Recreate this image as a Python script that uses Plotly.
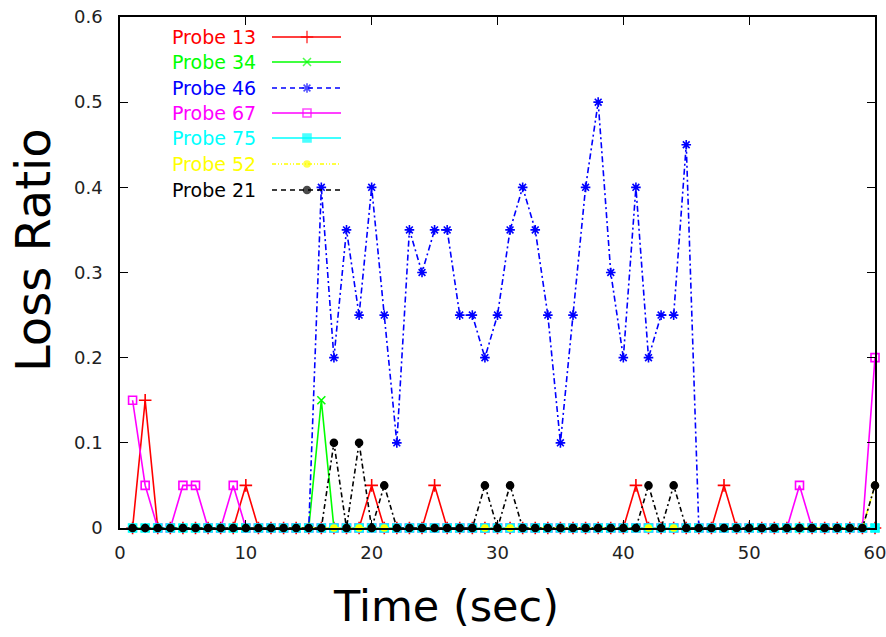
import plotly.graph_objects as go

# Time axis (seconds) and loss ratio per probe
time_sec = list(range(1, 61))

probe_13 = [0, 0.15, 0, 0, 0, 0, 0, 0, 0, 0.05,
            0, 0, 0, 0, 0, 0, 0, 0, 0, 0.05,
            0, 0, 0, 0, 0.05, 0, 0, 0, 0, 0,
            0, 0, 0, 0, 0, 0, 0, 0, 0, 0,
            0.05, 0, 0, 0, 0, 0, 0, 0.05, 0, 0,
            0, 0, 0, 0, 0, 0, 0, 0, 0, 0]

probe_34 = [0, 0, 0, 0, 0, 0, 0, 0, 0, 0,
            0, 0, 0, 0, 0, 0.15, 0, 0, 0, 0,
            0, 0, 0, 0, 0, 0, 0, 0, 0, 0,
            0, 0, 0, 0, 0, 0, 0, 0, 0, 0,
            0, 0, 0, 0, 0, 0, 0, 0, 0, 0,
            0, 0, 0, 0, 0, 0, 0, 0, 0, 0]

probe_46 = [0, 0, 0, 0, 0, 0, 0, 0, 0, 0,
            0, 0, 0, 0, 0, 0.4, 0.2, 0.35, 0.25, 0.4,
            0.25, 0.1, 0.35, 0.3, 0.35, 0.35, 0.25, 0.25, 0.2, 0.25,
            0.35, 0.4, 0.35, 0.25, 0.1, 0.25, 0.4, 0.5, 0.3, 0.2,
            0.4, 0.2, 0.25, 0.25, 0.45, 0, 0, 0, 0, 0,
            0, 0, 0, 0, 0, 0, 0, 0, 0, 0]

probe_67 = [0.15, 0.05, 0, 0, 0.05, 0.05, 0, 0, 0.05, 0,
            0, 0, 0, 0, 0, 0, 0, 0, 0, 0,
            0, 0, 0, 0, 0, 0, 0, 0, 0, 0,
            0, 0, 0, 0, 0, 0, 0, 0, 0, 0,
            0, 0, 0, 0, 0, 0, 0, 0, 0, 0,
            0, 0, 0, 0.05, 0, 0, 0, 0, 0, 0.2]

probe_75 = [0] * 60

probe_52 = [0, 0, 0, 0, 0, 0, 0, 0, 0, 0,
            0, 0, 0, 0, 0, 0, 0, 0, 0, 0,
            0, 0, 0, 0, 0, 0, 0, 0, 0, 0,
            0, 0, 0, 0, 0, 0, 0, 0, 0, 0,
            0, 0, 0, 0, 0, 0, 0, 0, 0, 0,
            0, 0, 0, 0, 0, 0, 0, 0, 0, 0.05]

probe_21 = [0, 0, 0, 0, 0, 0, 0, 0, 0, 0,
            0, 0, 0, 0, 0, 0, 0.1, 0, 0.1, 0,
            0.05, 0, 0, 0, 0, 0, 0, 0, 0.05, 0,
            0.05, 0, 0, 0, 0, 0, 0, 0, 0, 0,
            0, 0.05, 0, 0.05, 0, 0, 0, 0, 0, 0,
            0, 0, 0, 0, 0, 0, 0, 0, 0, 0.05]

x_ticks = [0, 10, 20, 30, 40, 50, 60]
y_ticks = [0, 0.1, 0.2, 0.3, 0.4, 0.5, 0.6]

series = [
    ("Probe 13", probe_13, "#ff0000", "solid", "solid", "cross-thin-open", 9),
    ("Probe 34", probe_34, "#00ff00", "solid", "solid", "x-thin-open", 8),
    ("Probe 46", probe_46, "#0000ff", "6px,3px,2px,3px", "5px,4px", "asterisk-open", 8),
    ("Probe 67", probe_67, "#ff00ff", "solid", "solid", "square-open", 8),
    ("Probe 75", probe_75, "#00ffff", "solid", "solid", "square", 8),
    ("Probe 52", probe_52, "#ffff00", "4px,2px,1px,2px,1px,2px", "4px,2px,1px,2px,1px,2px", "circle", 6),
    ("Probe 21", probe_21, "#000000", "5px,3px,2px,3px", "5px,4px", "circle", 7),
]

fig = go.Figure()

for name, vals, color, dash, _, symbol, msize in series:
    fig.add_trace(go.Scatter(
        x=time_sec, y=vals, name=name, mode="lines+markers",
        line=dict(color=color, width=1.6, dash=dash),
        marker=dict(symbol=symbol, size=msize, color=color,
                    line=dict(color=color, width=1.6)),
        cliponaxis=False, showlegend=False, hoverinfo="skip",
    ))

# Key in the upper left: label text, then a short line sample with its marker
row_y = [37, 62, 88, 113, 138, 164, 190]
for (name, _, color, _, key_dash, symbol, msize), ry in zip(series, row_y):
    fig.add_trace(go.Scatter(
        x=[272, 307, 341], y=[ry, ry, ry], mode="lines+markers",
        xaxis="x2", yaxis="y2",
        line=dict(color=color, width=1.6, dash=key_dash),
        marker=dict(symbol=symbol, size=[0, msize, 0], color=color,
                    line=dict(color=color, width=1.6)),
        cliponaxis=False, showlegend=False, hoverinfo="skip",
    ))
    fig.add_annotation(
        x=258, y=ry, xref="x2", yref="y2", text=name, showarrow=False,
        xanchor="right", yanchor="middle",
        font=dict(family="DejaVu Sans", size=19, color=color),
    )

# Axis titles
fig.add_annotation(
    x=0.4318, y=-0.1526, xref="paper", yref="paper", text="Time (sec)", showarrow=False,
    xanchor="center", yanchor="middle",
    font=dict(family="DejaVu Sans", size=43, color="black"),
)
fig.add_annotation(
    x=-0.1152, y=0.544, xref="paper", yref="paper", text="Loss Ratio", showarrow=False,
    textangle=-90, xanchor="center", yanchor="middle",
    font=dict(family="DejaVu Sans", size=48, color="black"),
)

axis_font = dict(family="DejaVu Sans", size=18, color="#222222")

fig.update_layout(
    width=886, height=637,
    margin=dict(l=120, r=11, t=17, b=109),
    paper_bgcolor="white", plot_bgcolor="white",
    xaxis=dict(
        range=[0, 60], tickvals=x_ticks, ticktext=[str(v) for v in x_ticks],
        ticks="inside", ticklen=8, tickwidth=1.2, tickcolor="black",
        showline=True, linecolor="black", linewidth=1.5, mirror="ticks",
        showgrid=False, zeroline=False, tickfont=axis_font,
        ticklabelstandoff=8, automargin=False, ticklabeloverflow="allow",
    ),
    yaxis=dict(
        range=[0, 0.6], tickvals=y_ticks, ticktext=["0", "0.1", "0.2", "0.3", "0.4", "0.5", "0.6"],
        ticks="inside", ticklen=8, tickwidth=1.2, tickcolor="black",
        showline=True, linecolor="black", linewidth=1.5, mirror="ticks",
        showgrid=False, zeroline=False, tickfont=axis_font,
        ticklabelstandoff=12, automargin=False, ticklabeloverflow="allow",
    ),
    xaxis2=dict(range=[120, 875], overlaying="x", visible=False, fixedrange=True),
    yaxis2=dict(range=[528, 17], overlaying="y", visible=False, fixedrange=True),
)

fig.write_html("out.html")
